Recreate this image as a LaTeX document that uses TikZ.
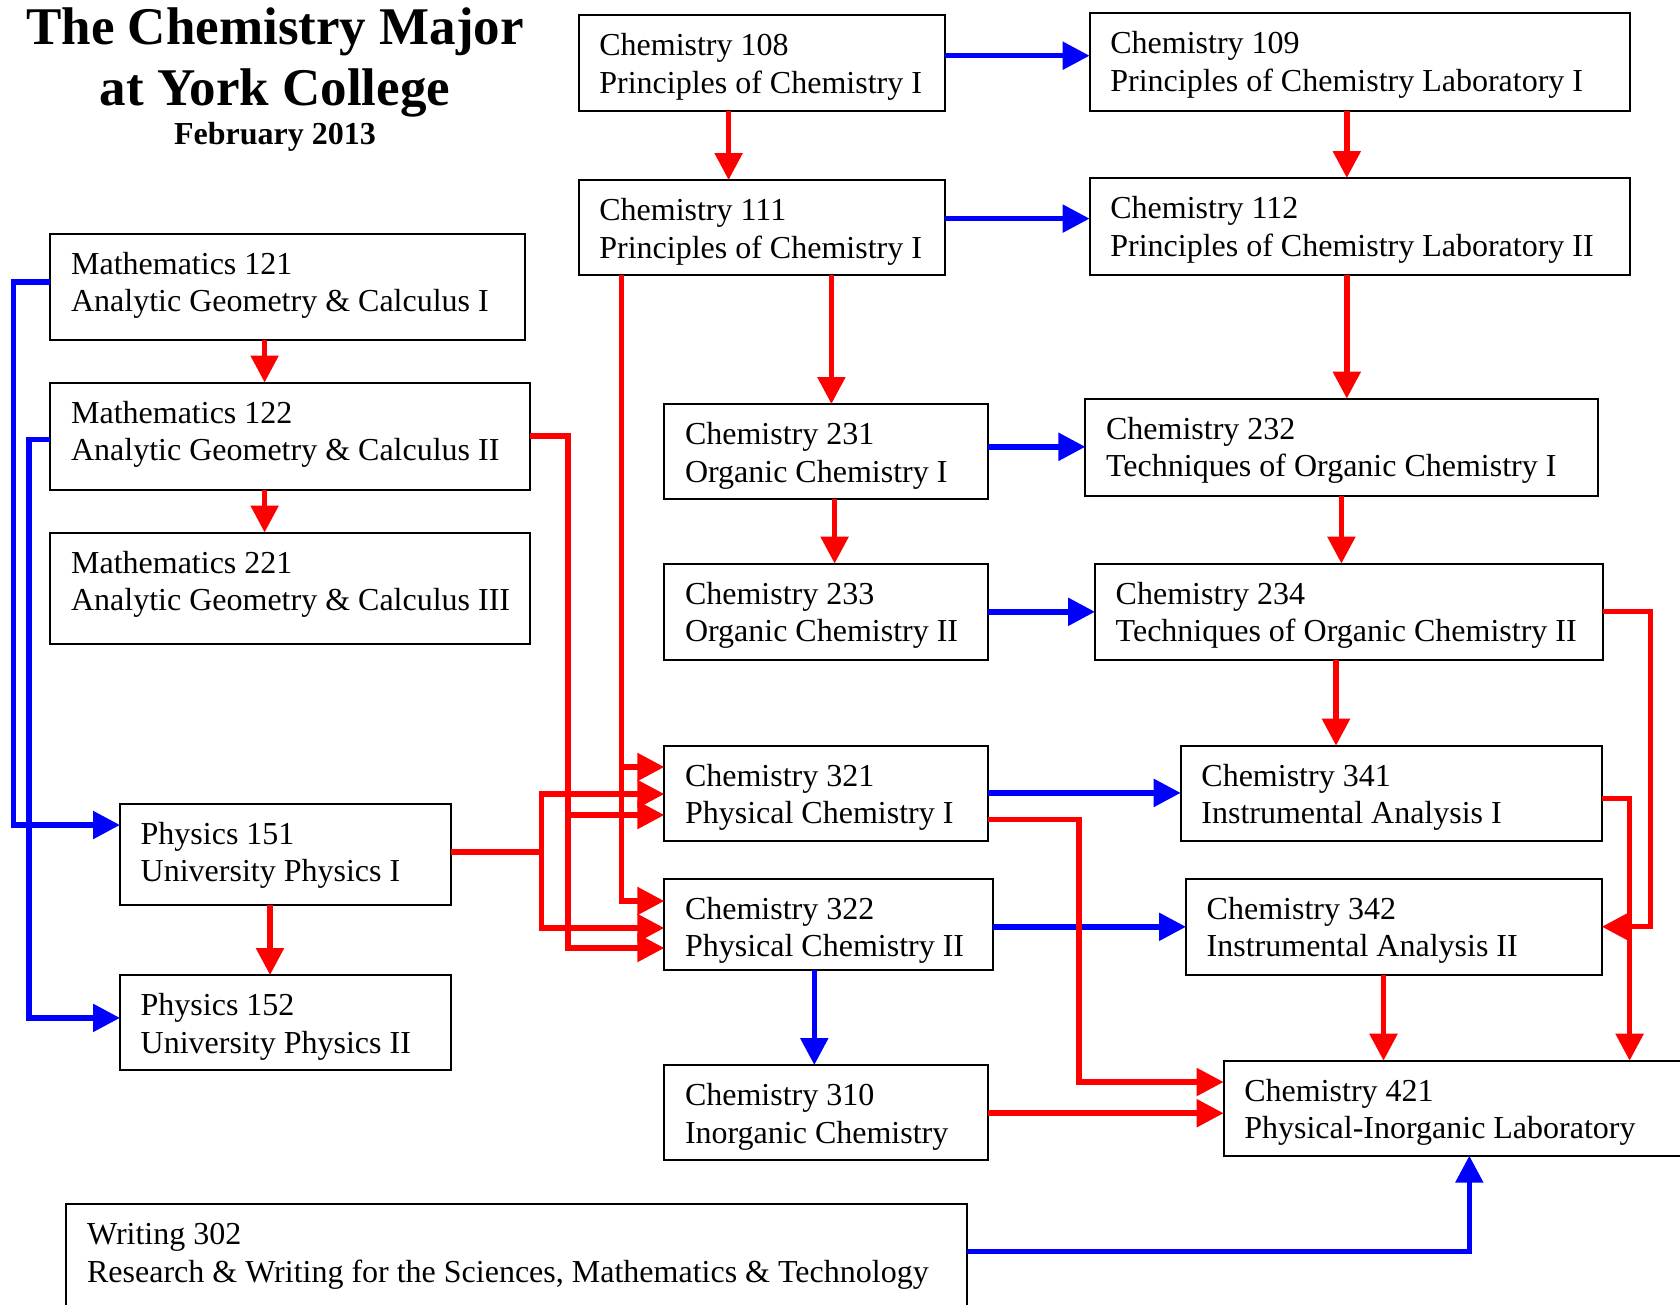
\documentclass[tikz,border=0pt]{standalone}
\usepackage{fontspec}
\setmainfont{Liberation Serif}
\usetikzlibrary{arrows.meta}
\definecolor{cred}{RGB}{255,0,0}
\definecolor{cblue}{RGB}{0,0,255}
\newcommand\coursebox[7]{%
  \node[box, minimum width=#4pt, minimum height=#5pt] (#1) at (#2,#3) {};
  \node[txt] (#1t) at ([xshift=20.5pt,yshift=-14.4pt]#1.north west) {\strut #6\\\strut #7};
}
\begin{document}
\begin{tikzpicture}[x=1pt,y=-1pt,
  box/.style={draw=black, line width=2pt, rectangle, anchor=north west, inner sep=0pt, outer sep=0pt},
  txt/.style={anchor=north west, inner sep=0pt, align=left, font=\fontsize{32}{37.3}\selectfont},
  ttl/.style={anchor=base, inner sep=0pt, font=\fontsize{53}{61}\selectfont\bfseries},
  sub/.style={anchor=base, inner sep=0pt, font=\fontsize{32}{37}\selectfont\bfseries},
  redln/.style={draw=cred, line width=5.5pt},
  blueln/.style={draw=cblue, line width=5.5pt},
  redarr/.style={redln, -{Triangle[length=27pt,width=27pt]}},
  bluearr/.style={blueln, -{Triangle[length=27pt,width=27pt]}}
]
\clip (0,0) rectangle (1680,1304);
\fill[white] (0,0) rectangle (1680,1304);

% title
\node[ttl] (title1) at (275,44) {The Chemistry Major};
\node[ttl] (title2) at (275,105) {at York College};
\node[sub] (date) at (275,144) {February 2013};

% boxes
\coursebox{c108}{578.6}{15}{366.4}{95.5}{Chemistry 108}{Principles of Chemistry I}
\coursebox{c109}{1089.6}{13}{540}{97.5}{Chemistry 109}{Principles of Chemistry Laboratory I}
\coursebox{c111}{578.6}{180}{366.4}{95.4}{Chemistry 111}{Principles of Chemistry I}
\coursebox{c112}{1089.6}{178}{540}{97.4}{Chemistry 112}{Principles of Chemistry Laboratory II}
\coursebox{m121}{50.4}{233.6}{474.6}{106}{Mathematics 121}{Analytic Geometry \& Calculus I}
\coursebox{m122}{50.4}{382.5}{480}{107.1}{Mathematics 122}{Analytic Geometry \& Calculus II}
\coursebox{m221}{50.4}{532.5}{480}{111.5}{Mathematics 221}{Analytic Geometry \& Calculus III}
\coursebox{c231}{664.3}{404}{323.6}{95.3}{Chemistry 231}{Organic Chemistry I}
\coursebox{c232}{1085.4}{398.6}{512.1}{97.4}{Chemistry 232}{Techniques of Organic Chemistry I}
\coursebox{c233}{664.3}{563.6}{323.6}{96.4}{Chemistry 233}{Organic Chemistry II}
\coursebox{c234}{1095}{563.6}{507.9}{96.4}{Chemistry 234}{Techniques of Organic Chemistry II}
\coursebox{c321}{664.3}{745.7}{323.6}{95.3}{Chemistry 321}{Physical Chemistry I}
\coursebox{c341}{1180.7}{745.7}{421.1}{95.3}{Chemistry 341}{Instrumental Analysis I}
\coursebox{p151}{120}{803.6}{331}{101.8}{Physics 151}{University Physics I}
\coursebox{c322}{664.3}{878.6}{328.9}{91}{Chemistry 322}{Physical Chemistry II}
\coursebox{c342}{1186}{878.6}{415.8}{96.4}{Chemistry 342}{Instrumental Analysis II}
\coursebox{p152}{120}{975}{331}{95.4}{Physics 152}{University Physics II}
\coursebox{c310}{664.3}{1065}{323.6}{95.4}{Chemistry 310}{Inorganic Chemistry}
\coursebox{c421}{1223.6}{1060.7}{480}{95}{Chemistry 421}{Physical-Inorganic Laboratory}
\coursebox{w302}{66.4}{1204}{901}{130}{Writing 302}{Research \& Writing for the Sciences, Mathematics \& Technology}

% junction points
\coordinate (j111) at (621.5,767);
\coordinate (jp) at (541.5,852);
\coordinate (j122) at (568,815);

% straight vertical prerequisites
\draw[redarr] (728.6,0 |- c108.south) -- (728.6,0 |- c111.north);
\draw[redarr] (1346.8,0 |- c109.south) -- (1346.8,0 |- c112.north);
\draw[redarr] (831.4,0 |- c111.south) -- (831.4,0 |- c231.north);
\draw[redarr] (1346.8,0 |- c112.south) -- (1346.8,0 |- c232.north);
\draw[redarr] (834.6,0 |- c231.south) -- (834.6,0 |- c233.north);
\draw[redarr] (1341.4,0 |- c232.south) -- (1341.4,0 |- c234.north);
\draw[redarr] (1336,0 |- c234.south) -- (1336,0 |- c341.north);
\draw[redarr] (1383.5,0 |- c342.south) -- (1383.5,0 |- c421.north);
\draw[redarr] (264.6,0 |- m121.south) -- (264.6,0 |- m122.north);
\draw[redarr] (264.6,0 |- m122.south) -- (264.6,0 |- m221.north);
\draw[redarr] (270,0 |- p151.south) -- (270,0 |- p152.north);
\draw[bluearr] (814.3,0 |- c322.south) -- (814.3,0 |- c310.north);

% horizontal co-requisites
\draw[bluearr] (c108.east |- 0,55.7) -- (c109.west |- 0,55.7);
\draw[bluearr] (c111.east |- 0,218.6) -- (c112.west |- 0,218.6);
\draw[bluearr] (c231.east |- 0,446.8) -- (c232.west |- 0,446.8);
\draw[bluearr] (c233.east |- 0,611.8) -- (c234.west |- 0,611.8);
\draw[bluearr] (c321.east |- 0,792.9) -- (c341.west |- 0,792.9);
\draw[bluearr] (c322.east |- 0,926.8) -- (c342.west |- 0,926.8);

% left blue routes
\draw[bluearr] (m121.west |- 0,281.8) -- (13.4,281.8) |- (p151.west |- 0,825);
\draw[bluearr] (m122.west |- 0,439.3) -- (28.9,439.3) |- (p152.west |- 0,1017.9);

% routes into 321/322
\draw[redarr] (621.5,0 |- c111.south) |- (c322.west |- 0,901);
\draw[redarr] (j111) -- (c321.west |- j111);
\draw[redln] (p151.east |- jp) -- (jp);
\draw[redarr] (jp) |- (c321.west |- 0,794);
\draw[redarr] (jp) |- (c322.west |- 0,928);
\draw[redarr] (m122.east |- 0,436) -- (568,436) |- (c322.west |- 0,948);
\draw[redarr] (j122) -- (c321.west |- j122);

% right side routes
\draw[redarr] (c234.east |- 0,611.7) -- (1650.7,611.7) |- (c342.east |- 0,926.7);
\draw[redarr] (c341.east |- 0,798.3) -| (1629.6,0 |- c421.north);
\draw[redarr] (c321.east |- 0,819.6) -- (1078.9,819.6) |- (c421.west |- 0,1082);
\draw[redarr] (c310.east |- 0,1113.2) -- (c421.west |- 0,1113.2);
\draw[bluearr] (w302.east |- 0,1251.6) -| (1469.3,0 |- c421.south);
\end{tikzpicture}
\end{document}
